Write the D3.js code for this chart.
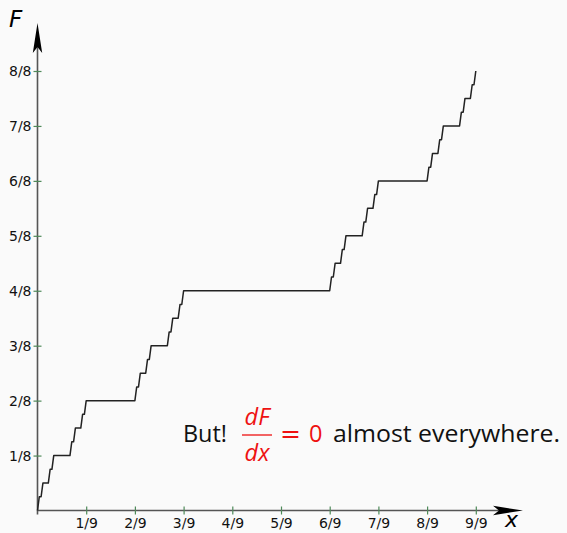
<!DOCTYPE html>
<html>
<head>
<meta charset="utf-8">
<script src="https://cdn.jsdelivr.net/npm/d3@7"></script>
<style>
  body { margin: 0; background: #fafafa; }
  svg { display: block; }
</style>
</head>
<body>
<div id="container"></div>
<script>
// Plateaus of the staircase, x in 1/243 units, level in 1/32 units
var plateauStart = [1, 3, 7, 9, 19, 21, 25, 27, 55, 57, 61, 63, 73, 75, 79, 81,
    163, 165, 169, 171, 181, 183, 187, 189, 217, 219, 223, 225, 235, 237, 241];
var plateauEnd = [2, 6, 8, 18, 20, 24, 26, 54, 56, 60, 62, 72, 74, 78, 80, 162,
    164, 168, 170, 180, 182, 186, 188, 216, 218, 222, 224, 234, 236, 240, 242];
var plateauLevel = [1, 2, 3, 4, 5, 6, 7, 8, 9, 10, 11, 12, 13, 14, 15, 16,
    17, 18, 19, 20, 21, 22, 23, 24, 25, 26, 27, 28, 29, 30, 31];

var xTicks = [1/9, 2/9, 3/9, 4/9, 5/9, 6/9, 7/9, 8/9, 9/9];
var xTickLabels = ["1/9", "2/9", "3/9", "4/9", "5/9", "6/9", "7/9", "8/9", "9/9"];
var yTicks = [1/8, 2/8, 3/8, 4/8, 5/8, 6/8, 7/8, 8/8];
var yTickLabels = ["1/8", "2/8", "3/8", "4/8", "5/8", "6/8", "7/8", "8/8"];

var W = 567, H = 533,
col = {axis: "#555", tick: "#4f8a5a", curve: "#222", red: "#ee1111"};

var svg = d3.select("#container").append("svg")
    .attr("width", W)
    .attr("height", H);

var x = d3.scaleLinear().domain([0, 1]).range([37.5, 475.8]);
var y = d3.scaleLinear().domain([0, 1]).range([510.5, 71]);

// build the staircase points
var pts = [[0, 0]];
plateauLevel.forEach(function(l, i) {
    pts.push([plateauStart[i] / 243, l / 32]);
    pts.push([plateauEnd[i] / 243, l / 32]);
});
pts.push([1, 1]);

// axis lines
svg.append("line")
    .attr("x1", x(0)).attr("x2", 505)
    .attr("y1", y(0)).attr("y2", y(0))
    .attr("stroke", col.axis).attr("stroke-width", 1.6);
svg.append("line")
    .attr("x1", x(0)).attr("x2", x(0))
    .attr("y1", y(0) + 4).attr("y2", 40)
    .attr("stroke", col.axis).attr("stroke-width", 1.6);

// arrow heads
svg.append("path")
    .attr("d", "M0,0 L4.7,30 L0,24 L-4.7,30 Z")
    .attr("transform", "translate(" + x(0) + ",23)")
    .attr("fill", "#000");
svg.append("path")
    .attr("d", "M0,0 L4.7,30 L0,24 L-4.7,30 Z")
    .attr("transform", "translate(523," + y(0) + ") rotate(90)")
    .attr("fill", "#000");

// ticks
var xAxis = svg.append("g")
    .attr("transform", "translate(0," + y(0) + ")")
    .call(d3.axisBottom(x).tickValues(xTicks).tickSize(4)
        .tickFormat(function(d, i) { return xTickLabels[i]; }));
var yAxis = svg.append("g")
    .attr("transform", "translate(" + x(0) + ",0)")
    .call(d3.axisLeft(y).tickValues(yTicks).tickSize(4)
        .tickFormat(function(d, i) { return yTickLabels[i]; }));

svg.selectAll(".domain").remove();
xAxis.selectAll(".tick line").attr("y1", -4).attr("y2", 4)
    .attr("stroke", col.tick).attr("stroke-width", 1.2);
yAxis.selectAll(".tick line").attr("x1", -4).attr("x2", 4)
    .attr("stroke", col.tick).attr("stroke-width", 1.2);
xAxis.selectAll(".tick text").attr("y", 8).attr("dy", "0.71em");
yAxis.selectAll(".tick text").attr("x", -6);
svg.selectAll(".tick text")
    .attr("font-family", "DejaVu Sans")
    .attr("font-size", 14)
    .attr("fill", "#111");

// curve
svg.append("path")
    .datum(pts)
    .attr("d", d3.line().x(function(d) { return x(d[0]); }).y(function(d) { return y(d[1]); }))
    .attr("fill", "none")
    .attr("stroke", col.curve)
    .attr("stroke-width", 1.5)
    .attr("stroke-linejoin", "round");

// axis names
svg.append("text")
    .attr("x", 9).attr("y", 27)
    .attr("font-family", "DejaVu Sans")
    .attr("font-style", "italic")
    .attr("font-size", 23)
    .text("F");
svg.append("text")
    .attr("x", 505).attr("y", 527)
    .attr("font-family", "DejaVu Sans")
    .attr("font-style", "italic")
    .attr("font-size", 22)
    .text("x");

// annotation
var note = svg.append("g").attr("font-family", "Open Sans").attr("font-size", 23.5);
note.append("text").attr("x", 183).attr("y", 442).attr("fill", "#111")
    .attr("textLength", 44).attr("lengthAdjust", "spacingAndGlyphs").text("But!");
note.append("text").attr("x", 257).attr("y", 425).attr("text-anchor", "middle")
    .attr("fill", col.red).attr("font-style", "italic").text("dF");
note.append("line").attr("x1", 242).attr("x2", 272).attr("y1", 435).attr("y2", 435)
    .attr("stroke", col.red).attr("stroke-width", 1.3);
note.append("text").attr("x", 257).attr("y", 461).attr("text-anchor", "middle")
    .attr("fill", col.red).attr("font-style", "italic").text("dx");
note.append("text").attr("x", 280).attr("y", 442).attr("fill", col.red)
    .attr("font-family", "DejaVu Sans").attr("font-size", 25).text("=");
note.append("text").attr("x", 309).attr("y", 442).attr("fill", col.red).text("0");
note.append("text").attr("x", 333).attr("y", 442).attr("fill", "#111")
    .attr("textLength", 227).attr("lengthAdjust", "spacingAndGlyphs").text("almost everywhere.");
</script>
</body>
</html>
